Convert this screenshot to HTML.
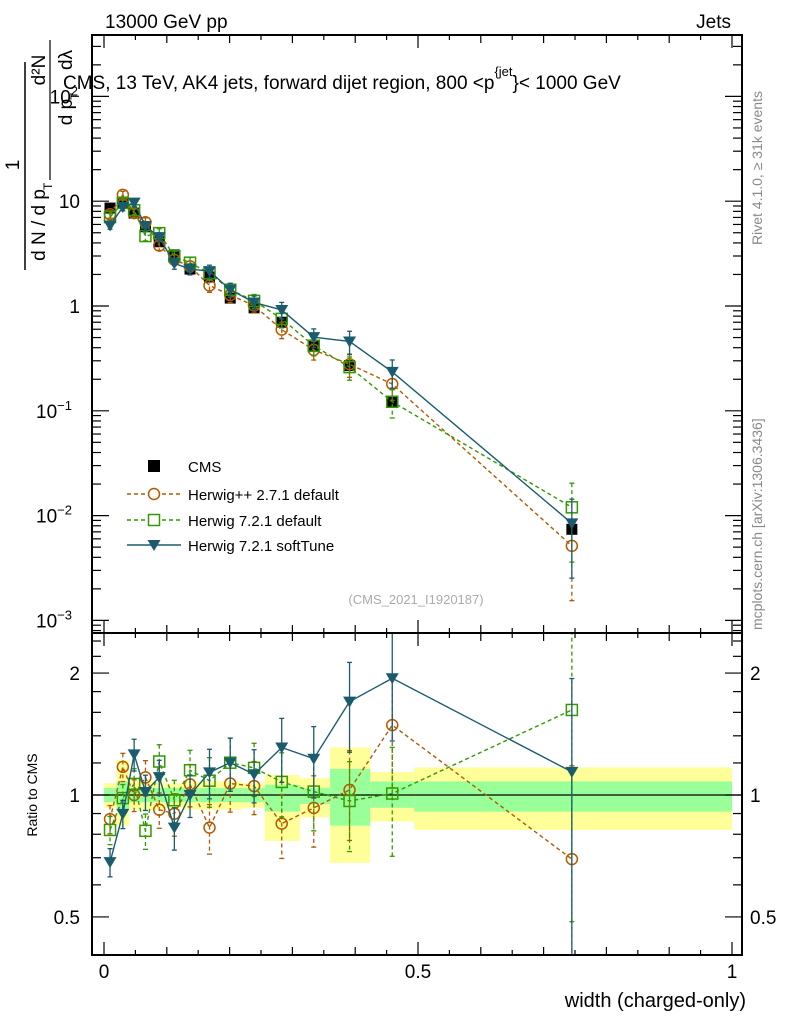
<!DOCTYPE html>
<html><head><meta charset="utf-8"><style>
body{margin:0;background:#fff;}
svg{display:block;font-family:"Liberation Sans",sans-serif;}
</style></head><body>
<svg id="c" width="786" height="1024" viewBox="0 0 786 1024"></svg>
<script>
const xCenters=[0.0096,0.030,0.048,0.066,0.088,0.112,0.137,0.168,0.201,0.239,0.283,0.334,0.391,0.459,0.745];
const binEdges=[0,0.02,0.04,0.055,0.075,0.095,0.125,0.15,0.18,0.22,0.256,0.312,0.36,0.424,0.494,1.0];
const cmsVals=[8.6,9.8,7.7,5.7,4.1,3.07,2.25,1.89,1.19,0.96,0.70,0.41,0.27,0.121,0.0074];
const herwigPPVals=[7.5,11.5,7.7,6.3,3.77,2.76,2.39,1.57,1.27,1.01,0.595,0.381,0.278,0.180,0.00514];
const herwig721Vals=[7.05,9.63,8.2,4.65,4.96,2.98,2.59,2.05,1.43,1.12,0.754,0.418,0.261,0.122,0.0120];
const softTuneVals=[5.87,8.8,9.7,5.8,4.54,2.55,2.25,2.15,1.43,1.08,0.917,0.504,0.459,0.235,0.00844];
const mcRelErr=[0.08,0.08,0.09,0.1,0.1,0.12,0.12,0.14,0.15,0.15,0.18,0.2,0.25,0.3,0.7];
const yellowHi=[1.07,1.22,1.08,1.08,1.08,1.07,1.08,1.08,1.08,1.07,1.12,1.1,1.31,1.14,1.17];
const yellowLo=[0.93,0.84,0.92,0.92,0.92,0.93,0.92,0.92,0.92,0.93,0.77,0.88,0.68,0.86,0.82];
const greenHi=[1.04,1.08,1.04,1.04,1.04,1.04,1.04,1.04,1.04,1.04,1.06,1.04,1.16,1.08,1.08];
const greenLo=[0.96,0.92,0.96,0.96,0.96,0.96,0.96,0.96,0.96,0.96,0.91,0.95,0.84,0.93,0.91];

const NS="http://www.w3.org/2000/svg";
const svg=document.getElementById('c');
const L=92,R=742,T=35,MB=633,RB=955;
function X(v){return 104+628*v;}
function YM(v){return 306-104.8*Math.log10(v);}
function YR(r){return 795-405*Math.log10(r);}
function el(tag,attrs,parent){const e=document.createElementNS(NS,tag);for(const k in attrs)e.setAttribute(k,attrs[k]);(parent||svg).appendChild(e);return e;}
function txt(s,attrs,parent){const e=el('text',attrs,parent);e.textContent=s;return e;}

// clips
const defs=el('defs',{});
const cp1=el('clipPath',{id:'cm'},defs);el('rect',{x:L,y:T,width:R-L,height:MB-T},cp1);
const cp2=el('clipPath',{id:'cr'},defs);el('rect',{x:L,y:MB,width:R-L,height:RB-MB},cp2);

// ratio bands
const gBands=el('g',{'clip-path':'url(#cr)'});


for(let i=0;i<xCenters.length;i++){
  const x0=X(binEdges[i]),x1=X(binEdges[i+1]);
  const y=el('rect',{x:x0,y:YR(yellowHi[i]),width:x1-x0,height:YR(yellowLo[i])-YR(yellowHi[i]),fill:'#ffff99'},gBands);
  
  
  const g=el('rect',{x:x0,y:YR(greenHi[i]),width:x1-x0,height:YR(greenLo[i])-YR(greenHi[i]),fill:'#99ff99'},gBands);
  
  
}
el('line',{x1:L,x2:R,y1:YR(1),y2:YR(1),stroke:'#000','stroke-width':1.3});

const series=[
 {name:'herwigpp-2-7-1',vals:herwigPPVals,color:'#b35900',dash:'4,3',marker:'circle'},
 {name:'herwig-7-2-1-default',vals:herwig721Vals,color:'#339900',dash:'4,3',marker:'square'},
 {name:'herwig-7-2-1-softtune',vals:softTuneVals,color:'#1a5c6e',dash:'',marker:'tri'}
];
function marker(type,x,y,color,g){
  let m;
  if(type==='circle')m=el('circle',{cx:x,cy:y,r:5.5,fill:'none',stroke:color,'stroke-width':1.5},g);
  else if(type==='square')m=el('rect',{x:x-5.5,y:y-5.5,width:11,height:11,fill:'none',stroke:color,'stroke-width':1.5},g);
  else if(type==='tri')m=el('path',{d:`M${x-6.5},${y-5} L${x+6.5},${y-5} L${x},${y+6} Z`,fill:color},g);
  else m=el('rect',{x:x-5.5,y:y-5.5,width:11,height:11,fill:'#000'},g);
  return m;
}
function drawSeries(s,panel){
  const g=el('g',{'clip-path':panel==='main'?'url(#cm)':'url(#cr)'});
  
  
  const pts=[];
  for(let i=0;i<xCenters.length;i++){
    const v=panel==='main'?s.vals[i]:s.vals[i]/cmsVals[i];
    const f=panel==='main'?YM:YR;
    const e=mcRelErr[i];
    const x=X(xCenters[i]),y=f(v),yh=f(v*(1+e)),yl=f(Math.max(v*(1-e),1e-9));
    el('line',{x1:x,x2:x,y1:yh,y2:yl,stroke:s.color,'stroke-width':1.3,'stroke-dasharray':s.dash},g);
    el('line',{x1:x-2.5,x2:x+2.5,y1:yh,y2:yh,stroke:s.color,'stroke-width':1.3},g);
    el('line',{x1:x-2.5,x2:x+2.5,y1:yl,y2:yl,stroke:s.color,'stroke-width':1.3},g);
    pts.push(x+','+y);
  }
  const pl=el('polyline',{points:pts.join(' '),fill:'none',stroke:s.color,'stroke-width':1.4,'stroke-dasharray':s.dash},g);
  
  
  for(let i=0;i<xCenters.length;i++){
    const v=panel==='main'?s.vals[i]:s.vals[i]/cmsVals[i];
    const f=panel==='main'?YM:YR;
    const m=marker(s.marker,X(xCenters[i]),f(v),s.color,g);
    
    
  }
}
// CMS main
const gc=el('g',{'clip-path':'url(#cm)'});


for(let i=0;i<xCenters.length;i++){
  const m=marker('cms',X(xCenters[i]),YM(cmsVals[i]),'#000',gc);
  
  
}
series.forEach(s=>{drawSeries(s,'main');drawSeries(s,'ratio');});

// frames
el('rect',{x:L,y:T,width:R-L,height:MB-T,fill:'none',stroke:'#000','stroke-width':2});
el('rect',{x:L,y:MB,width:R-L,height:RB-MB,fill:'none',stroke:'#000','stroke-width':2});

// x ticks
for(let k=0;k<=20;k++){
  const v=k*0.05,x=X(v);const len=(k%10===0)?13:(k%2===0?8:5);
  [[T,1],[MB,-1],[MB,1],[RB,-1]].forEach(([y0,d])=>{el('line',{x1:x,x2:x,y1:y0,y2:y0+d*len,stroke:'#000','stroke-width':1.2});});
}
[['0',0],['0.5',0.5],['1',1]].forEach(([s,v])=>{const t=txt(s,{x:X(v),y:978,'font-size':19,'text-anchor':'middle'});});
// main y ticks
for(let d=-4;d<=2;d++){for(let m=1;m<=9;m++){const v=m*Math.pow(10,d);const y=YM(v);if(y<T||y>MB)continue;const len=m===1?17:9;
  el('line',{x1:L,x2:L+len,y1:y,y2:y,stroke:'#000','stroke-width':1.2});el('line',{x1:R,x2:R-len,y1:y,y2:y,stroke:'#000','stroke-width':1.2});}}
const mainLabels=[[100,'10','2'],[10,'10',''],[1,'1',''],[0.1,'10','−1'],[0.01,'10','−2'],[0.001,'10','−3']];
mainLabels.forEach(([v,b,e])=>{const y=YM(v)+7;
  let t;
  if(v===10){t=txt('10',{x:80,y:y,'font-size':19,'text-anchor':'end'});}
  else if(v===1){t=txt('1',{x:80,y:y,'font-size':19,'text-anchor':'end'});}
  else{t=el('text',{x:e.length>1?72:78,y:y,'font-size':19,'text-anchor':'end'});t.textContent=b;const ts=el('tspan',{dy:-8,'font-size':13},t);ts.textContent=e;}
  });
// ratio y ticks
const rt=[0.5,0.6,0.7,0.8,0.9,1,1.2,1.4,1.6,1.8,2,2.2,2.4];
rt.forEach(v=>{const y=YR(v);const len=(v===0.5||v===1||v===2)?17:9;
  el('line',{x1:L,x2:L+len,y1:y,y2:y,stroke:'#000','stroke-width':1.2});el('line',{x1:R,x2:R-len,y1:y,y2:y,stroke:'#000','stroke-width':1.2});});
[['2',2],['1',1],['0.5',0.5]].forEach(([s,v])=>{
  const a=txt(s,{x:80,y:YR(v)+7,'font-size':19,'text-anchor':'end'});
  const b=txt(s,{x:750,y:YR(v)+7,'font-size':19});});

// legend
const lg=el('g',{});


const entries=[['CMS','cms','#000',''],['Herwig++ 2.7.1 default','circle','#b35900','4,3'],['Herwig 7.2.1 default','square','#339900','4,3'],['Herwig 7.2.1 softTune','tri','#1a5c6e','']];
entries.forEach((en,i)=>{const y=[466,494,520,545][i];
  const g=el('g',{},lg);
  
  
  if(en[1]!=='cms')el('line',{x1:127,x2:181,y1:y,y2:y,stroke:en[2],'stroke-width':1.4,'stroke-dasharray':en[3]},g);
  if(en[1]==='cms')el('rect',{x:148,y:y-6,width:12,height:12,fill:'#000'},g); else{const m=marker(en[1],154,y,en[2],g); if(en[1]!=='tri')m.setAttribute('fill','#fff');}
  txt(en[0],{x:188,y:y+6,'font-size':15},g);});

// texts
const t1=txt('13000 GeV pp',{x:105,y:28,'font-size':19});
const t2=txt('Jets',{x:731,y:28,'font-size':19,'text-anchor':'end'});
const tt=el('text',{x:63,y:89,'font-size':19});
tt.textContent='CMS, 13 TeV, AK4 jets, forward dijet region, 800 <p';
const s1=el('tspan',{dy:-13,'font-size':13},tt);s1.textContent='{jet';
const s2=el('tspan',{dy:13,'font-size':19},tt);s2.textContent='}< 1000 GeV';
const ref=txt('(CMS_2021_I1920187)',{x:416,y:604,'font-size':13,fill:'#aaa','text-anchor':'middle'});
const r1=txt('Rivet 4.1.0, ≥ 31k events',{x:0,y:0,'font-size':14,fill:'#888',transform:'translate(762,245) rotate(-90)'});
const r2=txt('mcplots.cern.ch [arXiv:1306.3436]',{x:0,y:0,'font-size':14,fill:'#888',transform:'translate(762,630) rotate(-90)'});
const xl=txt('width (charged-only)',{x:746,y:1007,'font-size':20,'text-anchor':'end'});
const rl=txt('Ratio to CMS',{x:0,y:0,'font-size':14,'text-anchor':'middle',transform:'translate(37,795) rotate(-90)'});
// y axis title (approximate ROOT layout)
const yg=el('g',{transform:'rotate(-90)'});


txt('1',{x:-165,y:19,'font-size':19,'text-anchor':'middle'},yg);
el('line',{x1:-270,x2:-62,y1:25,y2:25,stroke:'#000','stroke-width':1.5},yg);
txt('d N / d p',{x:-225,y:45,'font-size':19,'text-anchor':'middle'},yg);
txt('T',{x:-190,y:52,'font-size':12},yg);
txt('d²N',{x:-70,y:45,'font-size':19,'text-anchor':'middle'},yg);
el('line',{x1:-180,x2:-40,y1:50,y2:50,stroke:'#000','stroke-width':1.2},yg);
txt('d p',{x:-112,y:72,'font-size':19,'text-anchor':'middle'},yg);
txt('T',{x:-100,y:79,'font-size':12},yg);
txt('dλ',{x:-60,y:72,'font-size':19,'text-anchor':'middle'},yg);
</script>
</body></html>
